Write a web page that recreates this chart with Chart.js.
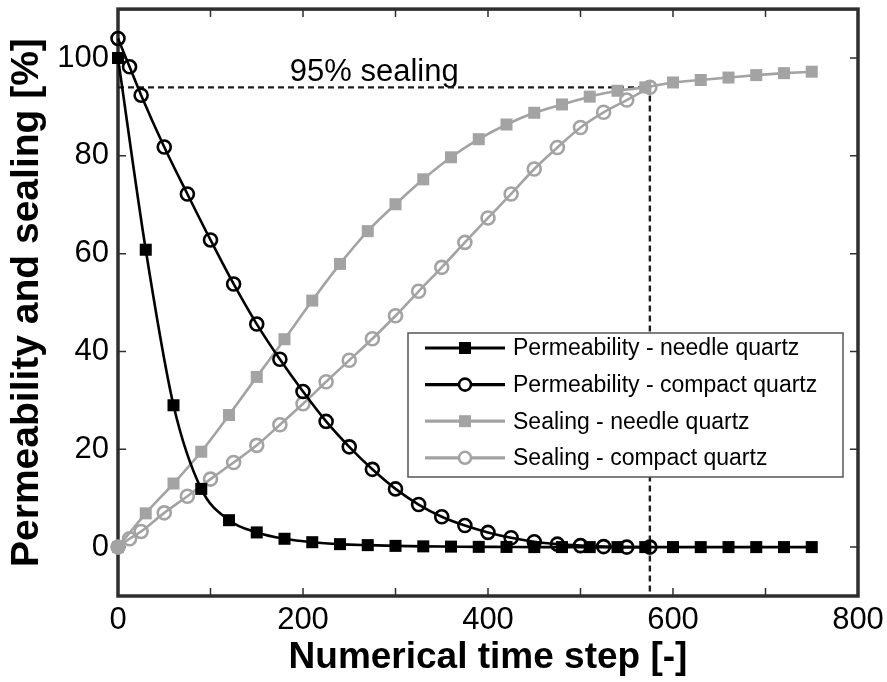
<!DOCTYPE html>
<html>
<head>
<meta charset="utf-8">
<script src="https://cdn.jsdelivr.net/npm/chart.js@4.4.1/dist/chart.umd.min.js"></script>
<style>
  html, body { margin: 0; padding: 0; background: #fff; }
  #chart { display: block; }
</style>
</head>
<body>
<canvas id="chart" width="887" height="682"></canvas>
<script>
  // time steps of the two simulations
  const needleSteps = [0, 30, 60, 90, 120, 150, 180, 210, 240, 270, 300, 330, 360, 390, 420, 450, 480, 510, 540, 570, 600, 630, 660, 690, 720, 750];
  const compactSteps = [0, 12.5, 25, 50, 75, 100, 125, 150, 175, 200, 225, 250, 275, 300, 325, 350, 375, 400, 425, 450, 475, 500, 525, 550, 575];

  const permNeedle = [100, 60.8, 29.0, 11.9, 5.5, 3.0, 1.7, 1.0, 0.6, 0.4, 0.25, 0.15, 0.1, 0.05, 0.03, 0, 0, 0, 0, 0, 0, 0, 0, 0, 0, 0];
  const permCompact = [104, 98.2, 92.4, 81.8, 72.2, 62.8, 53.8, 45.6, 38.4, 31.8, 25.7, 20.5, 15.9, 11.9, 8.7, 6.2, 4.4, 3.0, 1.9, 1.1, 0.6, 0.3, 0.1, 0, 0];
  const sealNeedle = [0, 6.9, 13.0, 19.5, 27.0, 34.8, 42.5, 50.4, 57.9, 64.6, 70.1, 75.2, 79.7, 83.4, 86.4, 88.8, 90.5, 92.1, 93.3, 94.0, 95.0, 95.5, 96.0, 96.5, 96.9, 97.2];
  const sealCompact = [0, 1.7, 3.2, 7.0, 10.4, 13.9, 17.3, 20.8, 25.0, 29.3, 33.8, 38.2, 42.6, 47.3, 52.3, 57.2, 62.3, 67.3, 72.2, 77.3, 81.7, 85.8, 88.9, 91.4, 94.0];

  const seriesNames = ['Permeability - needle quartz', 'Permeability - compact quartz', 'Sealing - needle quartz', 'Sealing - compact quartz'];

  // 95% sealing marker
  const sealLevel = 94;
  const sealStep = 575;
  const sealText = '95% sealing';

  const xTicks = [0, 100, 200, 300, 400, 500, 600, 700, 800];
  const xLabels = [0, 200, 400, 600, 800];
  const yTicks = [0, 20, 40, 60, 80, 100];

  const BLACK = '#000000';
  const GREY = '#a3a3a3';
  const FRAME = '#2e2e2e';
  const FONT = "'Liberation Sans', Arial, sans-serif";

  function pts(xs, ys) {
    return xs.map((x, i) => ({ x: x, y: ys[i] }));
  }

  function series(label, xs, ys, color, style) {
    const square = style === 'rect';
    return {
      label: label,
      data: pts(xs, ys),
      borderColor: color,
      backgroundColor: square ? color : '#ffffff',
      pointBackgroundColor: square ? color : 'rgba(0,0,0,0)',
      pointBorderColor: color,
      pointStyle: style,
      pointRadius: square ? 8.5 : 6.5,
      pointBorderWidth: square ? 0 : 2.6,
      borderWidth: 2.6,
      cubicInterpolationMode: 'monotone',
      clip: false
    };
  }

  const datasets = [
    series(seriesNames[0], needleSteps, permNeedle, BLACK, 'rect'),
    series(seriesNames[1], compactSteps, permCompact, BLACK, 'circle'),
    series(seriesNames[2], needleSteps, sealNeedle, GREY, 'rect'),
    series(seriesNames[3], compactSteps, sealCompact, GREY, 'circle'),
    {
      label: '',
      data: [{ x: 0, y: sealLevel }, { x: sealStep, y: sealLevel }, { x: sealStep, y: -10 }],
      borderColor: '#1e1e1e',
      borderWidth: 2.4,
      borderDash: [6, 4],
      pointRadius: 0,
      tension: 0,
      order: 10,
      clip: false
    }
  ];

  // frame, inward ticks, text and legend box drawn over the chart area
  const decorations = {
    id: 'decorations',
    beforeDatasetsDraw(chart) {
      const ctx = chart.ctx;
      const a = chart.chartArea;
      const xs = chart.scales.x, ys = chart.scales.y;
      ctx.save();
      ctx.strokeStyle = FRAME;
      ctx.lineWidth = 1.5;
      const tl = 8;
      xTicks.forEach(v => {
        const px = xs.getPixelForValue(v);
        ctx.beginPath();
        ctx.moveTo(px, a.bottom); ctx.lineTo(px, a.bottom - tl);
        ctx.moveTo(px, a.top); ctx.lineTo(px, a.top + tl);
        ctx.stroke();
      });
      yTicks.forEach(v => {
        const py = ys.getPixelForValue(v);
        ctx.beginPath();
        ctx.moveTo(a.left, py); ctx.lineTo(a.left + tl, py);
        ctx.moveTo(a.right, py); ctx.lineTo(a.right - tl, py);
        ctx.stroke();
      });
      ctx.lineWidth = 3.5;
      ctx.strokeRect(a.left, a.top, a.right - a.left, a.bottom - a.top);

      ctx.fillStyle = '#000';
      ctx.font = '31px ' + FONT;
      ctx.textAlign = 'center';
      ctx.textBaseline = 'alphabetic';
      ctx.fillText(sealText, xs.getPixelForValue(277), ys.getPixelForValue(sealLevel) - 6);
      ctx.restore();
    },
    afterDraw(chart) {
      const ctx = chart.ctx;
      const ds = chart.data.datasets.filter(d => d.label);
      const bx = 408, by = 333, bw = 435, bh = 144;
      const rowH = 36.6;
      ctx.save();
      ctx.fillStyle = '#ffffff';
      ctx.fillRect(bx, by, bw, bh);
      ctx.strokeStyle = '#555555';
      ctx.lineWidth = 1.5;
      ctx.strokeRect(bx, by, bw, bh);
      ctx.font = '23px ' + FONT;
      ctx.textBaseline = 'middle';
      ctx.textAlign = 'left';
      ds.forEach((d, i) => {
        const y = by + 15 + rowH * i;
        ctx.strokeStyle = d.borderColor;
        ctx.lineWidth = d.borderWidth + 0.6;
        ctx.beginPath();
        ctx.moveTo(bx + 17, y); ctx.lineTo(bx + 97, y);
        ctx.stroke();
        const cx = bx + 57;
        if (d.pointStyle === 'rect') {
          ctx.fillStyle = d.borderColor;
          ctx.fillRect(cx - 6, y - 6, 12, 12);
        } else {
          ctx.fillStyle = '#ffffff';
          ctx.lineWidth = d.pointBorderWidth;
          ctx.beginPath();
          ctx.arc(cx, y, 6, 0, Math.PI * 2);
          ctx.fill();
          ctx.stroke();
        }
        ctx.fillStyle = '#000';
        ctx.fillText(d.label, bx + 105, y + 1);
      });
      ctx.restore();
    }
  };

  new Chart(document.getElementById('chart'), {
    type: 'line',
    data: { datasets: datasets },
    plugins: [decorations],
    options: {
      responsive: false,
      animation: false,
      devicePixelRatio: 1,
      layout: { padding: { left: 0, right: 29, top: 9, bottom: 0 } },
      plugins: { legend: { display: false }, tooltip: { enabled: false } },
      scales: {
        x: {
          type: 'linear',
          min: 0,
          max: 800,
          afterFit: s => { s.height = 86; s.paddingLeft = 0; s.paddingRight = 0; },
          afterBuildTicks: s => { s.ticks = xTicks.map(v => ({ value: v })); },
          grid: { display: false, drawTicks: false },
          border: { display: false },
          ticks: {
            autoSkip: false,
            maxRotation: 0,
            padding: 6,
            color: '#000',
            font: { family: FONT, size: 31 },
            callback: v => xLabels.includes(v) ? String(v) : ''
          },
          title: {
            display: true,
            text: 'Numerical time step [-]',
            color: '#000',
            font: { family: FONT, size: 37, weight: 'bold' },
            padding: { top: 0, bottom: 2 }
          }
        },
        y: {
          type: 'linear',
          min: -10,
          max: 110,
          afterFit: s => { s.width = 118; s.paddingTop = 0; s.paddingBottom = 0; },
          afterBuildTicks: s => { s.ticks = yTicks.map(v => ({ value: v })); },
          grid: { display: false, drawTicks: false },
          border: { display: false },
          ticks: {
            padding: 9,
            color: '#000',
            font: { family: FONT, size: 31 }
          },
          title: {
            display: true,
            text: 'Permeability and sealing [%]',
            color: '#000',
            font: { family: FONT, size: 39, weight: 'bold' },
            padding: { top: 4, bottom: 0 }
          }
        }
      }
    }
  });
</script>
</body>
</html>
